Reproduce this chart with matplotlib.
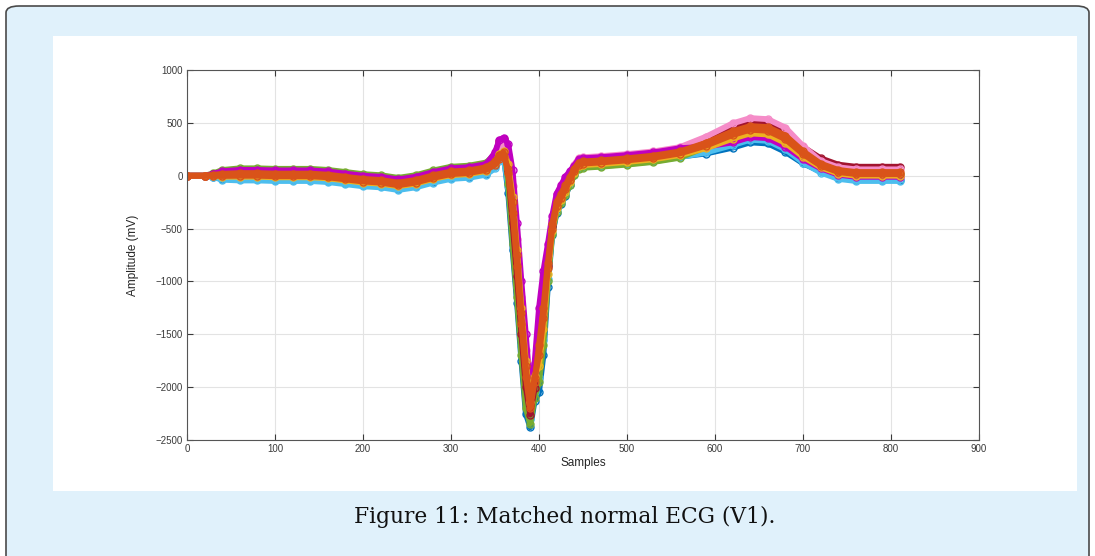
import matplotlib
matplotlib.use("Agg")
import matplotlib.pyplot as plt
from matplotlib.patches import FancyBboxPatch, Rectangle

# ---------------- data ----------------
samples = [0, 20, 30, 40, 60, 80, 100, 120, 140, 160,
           180, 200, 220, 240, 260, 280, 300, 320, 340, 350,
           355, 360, 365, 370, 375, 380, 385, 390, 395, 400,
           405, 410, 415, 420, 425, 430, 435, 440, 445, 450,
           470, 500, 530, 560, 590, 620, 640, 660, 680, 700,
           720, 740, 760, 790, 810]

trace_blue = [0, 0, -10, -30, -35, -35, -40, -40, -40, -50,
              -70, -90, -100, -125, -100, -55, -20, -10, 20, 90,
              170, 190, -160, -700, -1200, -1750, -2250, -2380, -2130, -2050,
              -1700, -1050, -560, -350, -270, -190, -88, 15, 75, 85,
              95, 115, 140, 180, 210, 265, 315, 305, 225, 117,
              40, -20, -40, -40, -40]
trace_cyan = [0, 0, -13, -38, -45, -45, -50, -50, -50, -60,
              -80, -100, -110, -135, -110, -65, -30, -20, 10, 70,
              140, 160, -100, -550, -1050, -1600, -2100, -2300, -2050, -1900,
              -1550, -975, -540, -330, -250, -170, -80, 10, 70, 80,
              90, 110, 135, 175, 220, 290, 340, 330, 250, 125,
              30, -30, -50, -50, -50]
trace_green = [0, 0, 22, 54, 70, 70, 65, 65, 65, 55,
               35, 15, 5, -20, 5, 50, 85, 95, 125, 202,
               290, 310, -75, -650, -1150, -1700, -2200, -2350, -2100, -1950,
               -1600, -1000, -550, -340, -260, -180, -88, 5, 65, 75,
               85, 105, 130, 170, 272, 400, 450, 440, 360, 215,
               100, 40, 20, 20, 20]
trace_red = [0, 0, 13, 30, 40, 40, 35, 35, 35, 25,
             5, -15, -25, -50, -25, 20, 55, 65, 95, 208,
             330, 350, 45, -450, -950, -1500, -2000, -2260, -2010, -1650,
             -1300, -850, -480, -270, -190, -110, -15, 80, 140, 150,
             160, 180, 205, 245, 335, 450, 500, 490, 410, 272,
             165, 105, 85, 85, 85]
trace_pink = [0, 0, 10, 22, 30, 30, 25, 25, 25, 15,
              -5, -25, -35, -60, -35, 10, 45, 55, 85, 178,
              280, 300, 195, -100, -600, -1150, -1650, -2080, -1830, -1450,
              -1100, -750, -420, -210, -130, -50, 28, 105, 165, 175,
              185, 205, 230, 270, 370, 495, 545, 535, 455, 282,
              140, 80, 60, 60, 60]
trace_magenta = [0, 0, 17, 42, 55, 55, 50, 50, 50, 40,
                 20, 0, -10, -35, -10, 35, 70, 80, 110, 220,
                 340, 360, 300, 50, -450, -1000, -1500, -2020, -1770, -1250,
                 -900, -650, -380, -170, -90, -10, 42, 95, 155, 165,
                 175, 195, 220, 260, 275, 315, 365, 355, 275, 158,
                 70, 10, -10, -10, -10]
trace_yellow = [0, 0, -3, -10, -10, -10, -15, -15, -15, -25,
                -45, -65, -75, -100, -75, -30, 5, 15, 45, 122,
                210, 230, 110, -200, -700, -1250, -1750, -2140, -1890, -1800,
                -1450, -925, -520, -310, -230, -150, -60, 30, 90, 100,
                110, 130, 155, 195, 260, 350, 400, 390, 310, 180,
                80, 20, 0, 0, 0]
trace_orange2 = [0, 0, 0, -2, 0, 0, -5, -5, -5, -15,
                 -35, -55, -65, -90, -65, -20, 15, 25, 55, 102,
                 160, 180, 60, -250, -750, -1300, -1800, -2160, -1910, -1700,
                 -1350, -875, -500, -290, -210, -130, -42, 45, 105, 115,
                 125, 145, 170, 210, 285, 385, 435, 425, 345, 205,
                 95, 35, 15, 15, 15]
trace_orange = [0, 0, 8, 18, 25, 25, 20, 20, 20, 10,
                -10, -30, -40, -65, -40, 5, 40, 50, 80, 135,
                200, 220, 30, -350, -850, -1400, -1900, -2200, -1950, -1600,
                -1250, -825, -460, -250, -170, -90, -12, 65, 125, 135,
                145, 165, 190, 230, 312, 420, 470, 460, 380, 232,
                115, 55, 35, 35, 35]

series = [
    (trace_blue, "#0072BD"),
    (trace_cyan, "#4DBEEE"),
    (trace_green, "#77AC30"),
    (trace_red, "#A2142F"),
    (trace_pink, "#F58CC8"),
    (trace_magenta, "#C000C0"),
    (trace_yellow, "#EDB120"),
    (trace_orange2, "#D95319"),
    (trace_orange, "#D95319"),
]

x_ticks = [0, 100, 200, 300, 400, 500, 600, 700, 800, 900]
y_ticks = [-2500, -2000, -1500, -1000, -500, 0, 500, 1000]

# ---------------- figure ----------------
W, H = 1095, 556
fig = plt.figure(figsize=(W / 100, H / 100), dpi=100, facecolor="white")

box = FancyBboxPatch((6 / W, -0.05), (1089 - 6) / W, 1 - 6 / H + 0.05,
                     boxstyle="round,pad=0,rounding_size=0.012",
                     transform=fig.transFigure, facecolor="#E0F1FB",
                     edgecolor="#4a4a4a", linewidth=1.2, zorder=0)
fig.patches.append(box)
panel = Rectangle((53 / W, 1 - 491 / H), (1077 - 53) / W, (491 - 36) / H,
                  transform=fig.transFigure, facecolor="white",
                  edgecolor="none", zorder=1)
fig.patches.append(panel)

ax = fig.add_axes([187 / W, 1 - 440 / H, (979 - 187) / W, (440 - 70) / H])
ax.set_zorder(2)
ax.set_facecolor("white")

for vals, col in series:
    ax.plot(samples, vals, color=col, lw=4.2, marker="o", ms=5,
            mfc="none", mew=1.0, solid_joinstyle="round",
            solid_capstyle="round")

ax.set_xlim(0, 900)
ax.set_ylim(-2500, 1000)
ax.set_xticks(x_ticks)
ax.set_yticks(y_ticks)
ax.grid(True, color="#e3e3e3", lw=0.8)
ax.set_axisbelow(True)
ax.tick_params(direction="in", length=4, width=0.8, colors="#3a3a3a",
               labelsize=7, top=True, right=True, pad=3)
for lab in ax.get_xticklabels() + ax.get_yticklabels():
    lab.set_family("Liberation Sans")
for sp in ax.spines.values():
    sp.set_color("#555555")
    sp.set_linewidth(0.8)

ax.set_xlabel("Samples", fontsize=8.5, family="Liberation Sans",
              color="#262626", labelpad=2)
ax.set_ylabel("Amplitude (mV)", fontsize=8.5, family="Liberation Sans",
              color="#262626", labelpad=12)

fig.text(565 / W, 1 - 517 / H, "Figure 11: Matched normal ECG (V1).",
         ha="center", va="center", fontsize=15.7, family="DejaVu Serif",
         color="#111111", zorder=3)

fig.savefig("out.png", dpi=100, facecolor="white")
